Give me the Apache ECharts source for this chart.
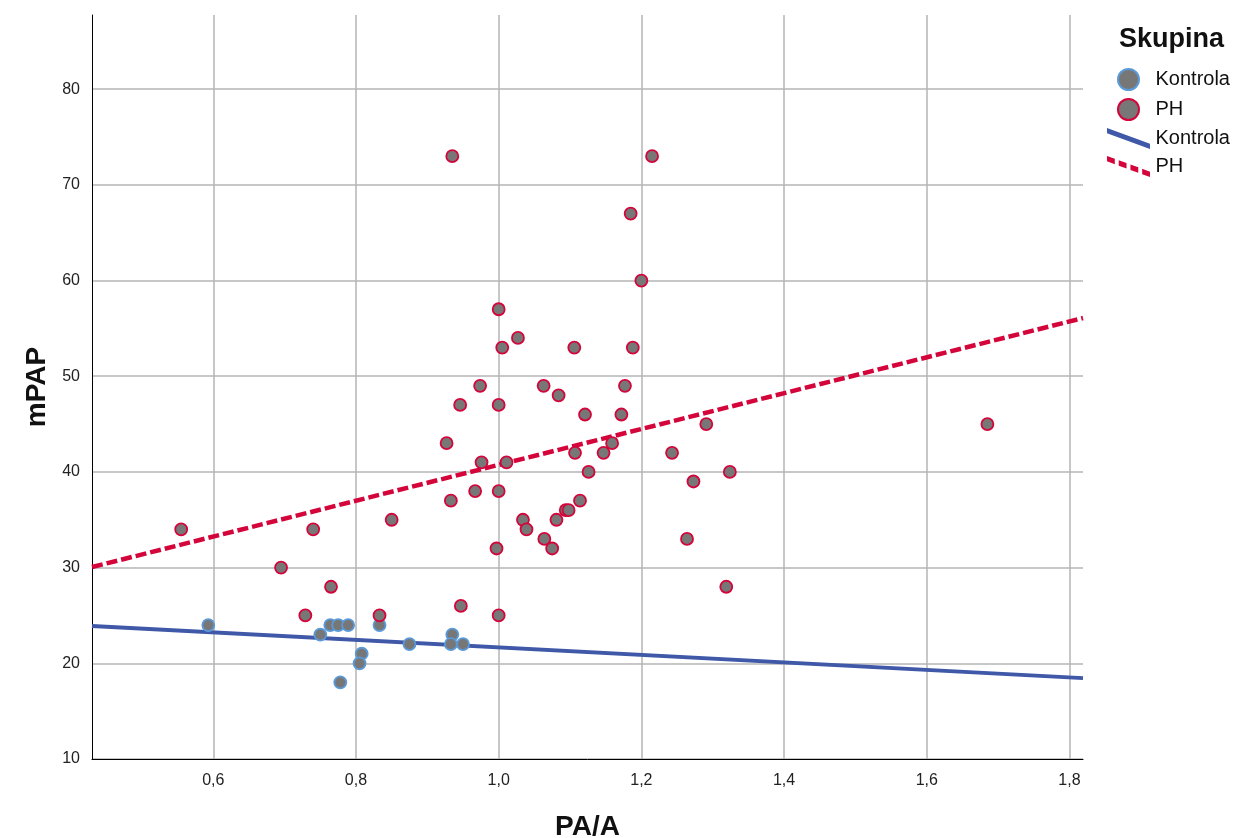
<!DOCTYPE html>
<html>
<head>
<meta charset="utf-8">
<script src="https://cdn.jsdelivr.net/npm/echarts@6/dist/echarts.min.js"></script>
<style>html,body{margin:0;padding:0;background:#fff}#c{width:1235px;height:838px}</style>
</head>
<body>
<div id="c"></div>
<script>
// PA/A and mPAP values
const kontrolaX = [0.593, 0.750, 0.764, 0.775, 0.789, 0.808, 0.805, 0.778, 0.833, 0.875, 0.935, 0.933, 0.950];
const kontrolaY = [24, 23, 24, 24, 24, 21, 20, 18, 24, 22, 23, 22, 22];

const phX = [0.555, 0.695, 0.740, 0.729, 0.765, 0.833, 0.850, 0.935, 0.927, 0.933,
             0.947, 0.946, 0.974, 0.976, 0.967, 1.000, 1.005, 1.000, 1.000, 0.997,
             1.000, 1.011, 1.027, 1.034, 1.039, 1.063, 1.064, 1.075, 1.084, 1.081,
             1.094, 1.098, 1.106, 1.107, 1.114, 1.121, 1.126, 1.147, 1.159, 1.172,
             1.177, 1.185, 1.188, 1.200, 1.215, 1.243, 1.264, 1.273, 1.291, 1.319,
             1.324, 1.685];
const phY = [34, 30, 34, 25, 28, 25, 35, 73, 43, 37,
             26, 47, 49, 41, 38, 57, 53, 47, 38, 32,
             25, 41, 54, 35, 34, 49, 33, 32, 48, 35,
             36, 36, 53, 42, 37, 46, 40, 42, 43, 46,
             49, 67, 53, 60, 73, 42, 33, 39, 45, 28,
             40, 45];

// fit lines (end points at the x-axis extent)
const fitKontrolaX = [0.43, 1.819];
const fitKontrolaY = [23.9, 18.46];
const fitPhX = [0.43, 1.819];
const fitPhY = [30.06, 56.08];

const xTicks = [0.6, 0.8, 1.0, 1.2, 1.4, 1.6, 1.8];
const yTicks = [10, 20, 30, 40, 50, 60, 70, 80];

const zip = (a, b) => a.map((v, i) => [v, b[i]]);

const FONT = '"Liberation Sans", Arial, sans-serif';
const C_K_BORDER = '#5a9ad8';
const C_PH = '#d4053a';
const C_K_LINE = '#3f58a8';
const C_FILL = '#777777';

const dashPath = (function () {
  // dashed diagonal icon
  const segs = [[0, 8], [12, 20], [24, 32], [36, 44]];
  const s = 16 / 44;
  return 'path://' + segs.map(([a, b]) =>
    `M${a},${a * s}L${b},${b * s}L${b},${b * s + 5.5}L${a},${a * s + 5.5}Z`).join('');
})();
const solidPath = 'path://M0,0L44,16L44,21.5L0,5.5Z';

const chart = echarts.init(document.getElementById('c'), null, { renderer: 'canvas' });
chart.setOption({
  animation: false,
  backgroundColor: '#ffffff',
  textStyle: { fontFamily: FONT },
  title: {
    text: 'Skupina',
    left: 1114, top: 21,
    textStyle: { fontFamily: FONT, fontSize: 27, fontWeight: 'bold', color: '#111' }
  },
  legend: {
    orient: 'vertical',
    left: 1102, top: 63,
    itemWidth: 44, itemHeight: 21, itemGap: 7,
    selectedMode: false,
    textStyle: { fontFamily: FONT, fontSize: 20, color: '#111' },
    formatter: n => n.replace('_fit', ''),
    data: [
      { name: 'Kontrola', icon: 'circle', itemStyle: { color: C_FILL, borderColor: C_K_BORDER, borderWidth: 2 } },
      { name: 'PH', icon: 'circle', itemStyle: { color: C_FILL, borderColor: C_PH, borderWidth: 2 } },
      { name: 'Kontrola_fit', icon: solidPath, itemStyle: { color: C_K_LINE, borderWidth: 0, opacity: 1 } },
      { name: 'PH_fit', icon: dashPath, itemStyle: { color: C_PH, borderWidth: 0, opacity: 1 } }
    ]
  },
  grid: { left: 92, top: 15, right: 152, bottom: 79, containLabel: false, outerBoundsMode: 'none' },
  xAxis: {
    type: 'value',
    min: 0.43, max: 1.819,
    name: 'PA/A',
    nameLocation: 'middle',
    nameGap: 54,
    nameTextStyle: { fontFamily: FONT, fontSize: 28, fontWeight: 'bold', color: '#111' },
    axisLine: { show: true, onZero: false, lineStyle: { color: '#000', width: 1 } },
    axisTick: { show: false, customValues: xTicks },
    axisLabel: {
      customValues: xTicks,
      margin: 14,
      fontSize: 16, color: '#222', fontFamily: FONT,
      formatter: v => v.toFixed(1).replace('.', ',')
    },
    splitLine: { show: true, lineStyle: { color: '#b4b4b4', width: 1.5 } }
  },
  yAxis: {
    type: 'value',
    min: 10, max: 87.75,
    name: 'mPAP',
    nameLocation: 'middle',
    nameRotate: 90,
    nameGap: 39,
    nameTextStyle: { fontFamily: FONT, fontSize: 28, fontWeight: 'bold', color: '#111' },
    axisLine: { show: true, onZero: false, lineStyle: { color: '#000', width: 1 } },
    axisTick: { show: false, customValues: yTicks },
    axisLabel: {
      customValues: yTicks,
      margin: 12,
      fontSize: 16, color: '#222', fontFamily: FONT
    },
    splitLine: { show: true, lineStyle: { color: '#b4b4b4', width: 1.5 } }
  },
  series: [
    {
      name: 'fitK', type: 'line', data: zip(fitKontrolaX, fitKontrolaY),
      showSymbol: false, symbol: 'none', silent: true, z: 2,
      lineStyle: { color: C_K_LINE, width: 3.8 }
    },
    {
      name: 'fitPH', type: 'line', data: zip(fitPhX, fitPhY),
      showSymbol: false, symbol: 'none', silent: true, z: 2,
      lineStyle: { color: C_PH, width: 4.5, type: [11, 4] }
    },
    {
      name: 'Kontrola', type: 'scatter', data: zip(kontrolaX, kontrolaY),
      symbolSize: 12, z: 3,
      itemStyle: { color: C_FILL, borderColor: C_K_BORDER, borderWidth: 1.8, opacity: 1 }
    },
    {
      name: 'PH', type: 'scatter', data: zip(phX, phY),
      symbolSize: 12, z: 3,
      itemStyle: { color: C_FILL, borderColor: C_PH, borderWidth: 1.8, opacity: 1 }
    },
    { name: 'Kontrola_fit', type: 'scatter', data: [], itemStyle: { color: C_K_LINE, opacity: 1 } },
    { name: 'PH_fit', type: 'scatter', data: [], itemStyle: { color: C_PH, opacity: 1 } }
  ]
});
</script>
</body>
</html>
